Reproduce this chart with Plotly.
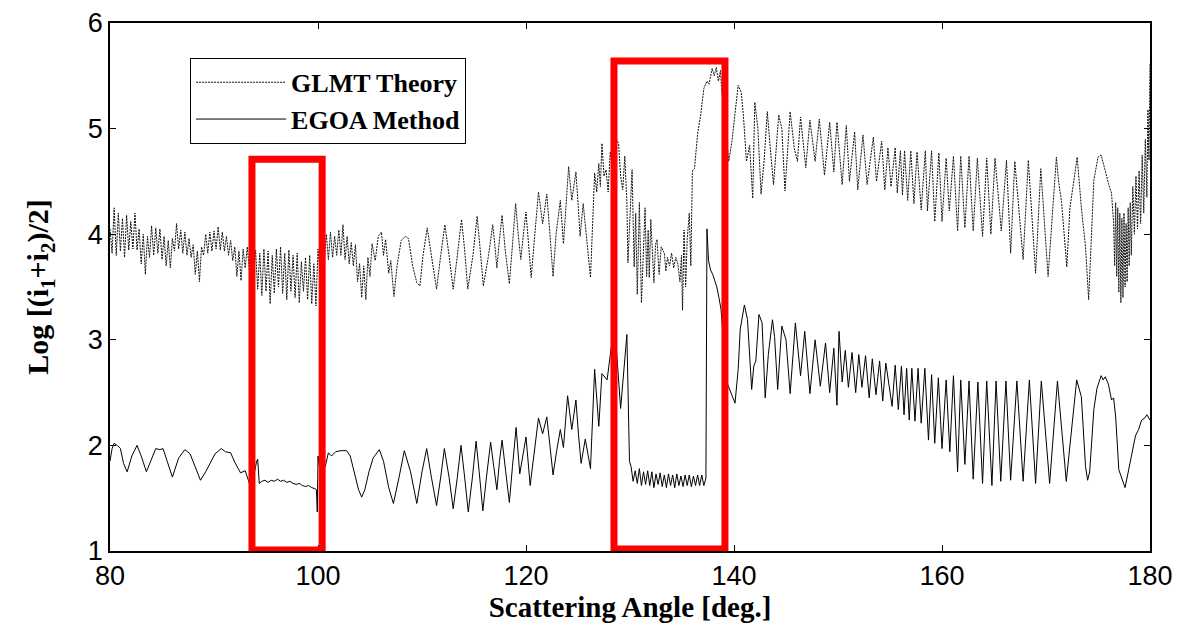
import numpy as np
import plotly.graph_objects as go

# ---------------- data ----------------
x_ticks = [80, 100, 120, 140, 160, 180]
y_ticks = [1, 2, 3, 4, 5, 6]

# GLMT Theory (upper curve) - densely oscillating part, sampled every 0.2 deg from 80.0
glmt_dense_start = 80.0
glmt_dense_step = 0.2
glmt_dense_y = [
    4.05, 3.82, 4.25, 3.80, 4.20,
    3.84, 4.15, 3.78, 4.18, 3.85,
    4.12, 3.86, 4.20, 3.85, 4.05,
    3.72, 4.00, 3.62, 3.98, 3.78,
    4.08, 3.80, 4.06, 3.82, 4.05,
    3.76, 3.98, 3.70, 3.94, 3.68,
    3.96, 3.84, 4.10, 3.86, 4.04,
    3.82, 4.02, 3.80, 3.96, 3.78,
    3.90, 3.62, 3.84, 3.55, 3.88,
    3.80, 4.00, 3.82, 4.02, 3.84,
    4.03, 3.86, 4.07, 3.85, 4.02,
    3.84, 3.98, 3.80, 3.94, 3.75,
    3.88, 3.60, 3.84, 3.56, 3.86,
    3.68, 3.88, 3.66, 3.90, 3.62,
    3.85, 3.48, 3.82, 3.42, 3.86,
    3.46, 3.84, 3.34, 3.80, 3.44,
    3.86, 3.50, 3.88, 3.44, 3.82,
    3.38, 3.85, 3.46, 3.80, 3.40,
    3.82, 3.35, 3.74, 3.46, 3.78,
    3.38, 3.80, 3.34, 3.72, 3.32,
    3.86, 3.64, 3.96, 3.72, 4.00,
    3.76, 4.02, 3.78, 3.98, 3.80,
    4.04, 3.80, 4.09, 3.76, 3.98,
    3.72, 3.92, 3.70, 3.90, 3.55,
    3.72, 3.40, 3.70, 3.38, 3.78,
]

# GLMT Theory (upper curve) - remaining part, read point by point
glmt_x = [
    105.0, 105.2, 105.5, 105.8, 106.1, 106.3, 106.5, 106.8, 107.0, 107.3,
    107.6, 108.0, 108.4, 108.7, 109.1, 109.5, 109.8, 110.1, 110.5, 110.9,
    111.4, 111.8, 112.2, 112.6, 113.0, 113.4, 113.8, 114.1, 114.4, 114.9,
    115.3, 115.6, 115.9, 116.4, 116.8, 117.0, 117.2, 117.45, 117.7, 118.0,
    118.4, 118.7, 119.0, 119.25, 119.5, 119.75, 120.0, 120.25, 120.5, 120.85,
    121.2, 121.6, 122.0, 122.3, 122.6, 122.9, 123.3, 123.6, 124.1, 124.4,
    124.8, 125.0, 125.2, 125.5, 125.8, 126.2, 126.6, 126.8, 127.0, 127.15,
    127.3, 127.5, 127.7, 127.9, 128.1, 128.3, 128.5, 128.7, 128.9, 129.1,
    129.3, 129.5, 129.7, 129.8, 130.0, 130.2, 130.4, 130.55, 130.7, 130.9,
    131.1, 131.3, 131.45, 131.6, 131.75, 131.85, 132.0, 132.3, 132.45, 132.6,
    132.8, 133.0, 133.3, 133.45, 133.6, 133.8, 134.0, 134.2, 134.4, 134.6,
    134.8, 134.95, 135.05, 135.2, 135.35, 135.5, 135.7, 135.85, 136.0, 136.2,
    136.5, 136.8, 137.1, 137.4, 137.6, 137.9, 138.1, 138.3, 138.5, 138.7,
    138.8, 139.0, 139.5, 139.8, 140.1, 140.4, 140.7, 140.9, 141.2, 141.5,
    141.8, 142.0, 142.3, 142.6, 142.9, 143.2, 143.5, 143.8, 144.3, 144.6,
    144.9, 145.4, 145.8, 146.1, 146.4, 146.9, 147.3, 147.8, 148.2, 148.7,
    149.2, 149.6, 149.9, 150.4, 150.8, 151.1, 151.6, 151.9, 152.4, 152.8,
    153.4, 153.7, 154.2, 154.5, 154.8, 155.1, 155.5, 155.7, 156.0, 156.2,
    156.4, 156.7, 157.0, 157.3, 157.6, 158.0, 158.4, 158.6, 159.0, 159.3,
    159.7, 160.0, 160.4, 160.7, 161.1, 161.5, 161.8, 162.2, 162.6, 163.0,
    163.4, 163.9, 164.3, 164.7, 165.1, 165.7, 166.2, 166.6, 167.0, 167.8,
    168.3, 169.0, 169.5, 170.2, 171.0, 171.2, 171.5, 172.0, 172.3, 173.0,
    173.4, 173.8, 174.1, 174.3, 174.6, 175.0, 175.3, 175.7, 176.0, 176.3,
    176.5, 176.6, 176.7, 176.8, 176.9, 177.0, 177.1, 177.2, 177.3, 177.4,
    177.5, 177.6, 177.7, 177.8, 177.9, 178.0, 178.1, 178.2, 178.35, 178.5,
    178.65, 178.8, 178.95, 179.1, 179.25, 179.4, 179.55, 179.7, 179.8, 179.9,
    180.0,
]
glmt_y = [
    3.60, 3.91, 3.75, 3.98, 4.02, 3.80, 3.95, 3.63, 3.75, 3.41,
    3.70, 3.94, 3.98, 3.96, 3.70, 3.54, 3.51, 3.80, 4.06, 3.80,
    3.48, 3.80, 4.09, 3.80, 3.48, 3.80, 4.14, 3.85, 3.48, 3.80,
    4.17, 3.85, 3.51, 3.80, 4.09, 3.90, 3.68, 3.95, 4.18, 3.85,
    3.53, 3.90, 4.29, 4.00, 3.76, 4.00, 4.21, 3.90, 3.59, 4.00,
    4.40, 4.10, 4.38, 4.00, 3.60, 4.01, 4.32, 3.91, 4.64, 4.32,
    4.59, 4.30, 3.98, 4.29, 4.01, 3.59, 4.58, 4.40, 4.67, 4.45,
    4.86, 4.55, 4.61, 4.40, 4.78, 4.60, 4.48, 4.90, 4.86, 4.55,
    4.42, 4.74, 4.30, 3.73, 4.19, 4.61, 3.69, 4.20, 3.43, 4.30,
    3.35, 3.95, 4.25, 3.60, 4.04, 3.59, 4.14, 3.54, 3.90, 3.95,
    3.62, 3.88, 3.82, 3.65, 3.78, 3.70, 3.82, 3.68, 3.78, 3.72,
    3.55, 3.80, 3.28, 4.04, 3.50, 3.95, 4.20, 3.70, 4.60, 4.62,
    4.95, 5.13, 5.38, 5.45, 5.42, 5.57, 5.50, 5.58, 5.45, 5.55,
    5.38, 5.20, 4.69, 4.88, 5.16, 5.41, 5.34, 5.13, 4.69, 4.84,
    4.34, 5.25, 5.00, 4.38, 4.70, 5.16, 4.80, 4.47, 5.13, 5.00,
    4.41, 5.16, 4.81, 4.69, 5.11, 4.63, 5.08, 4.69, 5.09, 4.56,
    5.06, 4.59, 5.06, 4.47, 5.03, 4.50, 4.97, 4.42, 4.94, 4.47,
    4.92, 4.50, 4.88, 4.42, 4.82, 4.45, 4.82, 4.39, 4.79, 4.37,
    4.79, 4.32, 4.79, 4.29, 4.78, 4.23, 4.79, 4.22, 4.79, 4.12,
    4.77, 4.12, 4.72, 4.22, 4.74, 4.03, 4.74, 4.06, 4.74, 4.03,
    4.72, 3.98, 4.72, 4.00, 4.72, 4.03, 4.70, 3.82, 4.69, 3.76,
    4.70, 3.63, 4.62, 3.60, 4.73, 4.51, 4.30, 3.69, 4.25, 4.73,
    4.25, 3.88, 3.38, 3.85, 4.51, 4.73, 4.75, 4.60, 4.48, 4.39,
    4.11, 3.70, 4.30, 3.60, 4.25, 3.45, 4.20, 3.35, 4.15, 3.40,
    4.20, 3.50, 4.10, 3.55, 4.25, 3.70, 4.30, 3.80, 4.45, 4.00,
    4.55, 4.05, 4.60, 4.10, 4.75, 4.20, 4.90, 4.35, 5.18, 4.70,
    5.62,
]

# EGOA Method (lower curve) - read point by point
egoa_x = [
    80.0, 80.2, 80.4, 80.7, 81.0, 81.3, 81.65, 82.1, 82.6, 83.0,
    83.5, 83.9, 84.4, 84.8, 85.1, 85.5, 86.0, 86.6, 87.2, 87.7,
    88.2, 88.7, 89.2, 89.6, 90.1, 90.7, 91.1, 91.6, 92.0, 92.55,
    93.0, 93.47, 93.8, 94.1, 94.2, 94.35, 94.6, 94.9, 95.2, 95.5,
    95.8, 96.1, 96.4, 96.7, 97.0, 97.3, 97.6, 97.9, 98.2, 98.5,
    98.8, 99.1, 99.4, 99.7, 99.85, 99.93, 100.0, 100.2, 100.4, 100.7,
    101.0, 101.3, 101.7, 102.2, 102.75, 103.1, 103.5, 103.9, 104.2, 104.5,
    104.9, 105.3, 105.9, 106.3, 106.8, 107.25, 107.8, 108.3, 108.9, 109.5,
    110.0, 110.45, 110.9, 111.4, 111.8, 112.15, 112.6, 113.0, 113.4, 113.75,
    114.1, 114.45, 114.85, 115.2, 115.5, 115.85, 116.2, 116.6, 116.9, 117.2,
    117.45, 117.7, 118.05, 118.4, 118.7, 119.05, 119.4, 119.7, 120.0, 120.4,
    120.8, 121.2, 121.6, 122.0, 122.3, 122.6, 122.95, 123.3, 123.6, 124.0,
    124.4, 124.8, 125.05, 125.3, 125.7, 126.2, 126.6, 127.0, 127.3, 127.8,
    128.2, 128.5, 128.7, 129.1, 129.7, 129.95,
]
egoa_y = [
    1.85, 1.97, 2.02, 2.00, 1.97, 1.83, 1.75, 1.90, 2.00, 1.90,
    1.75, 1.85, 1.97, 1.96, 1.97, 1.85, 1.70, 1.88, 1.96, 1.92,
    1.80, 1.67, 1.75, 1.82, 1.92, 1.97, 1.94, 1.93, 1.84, 1.74,
    1.76, 1.62, 1.70, 1.85, 1.87, 1.64, 1.66, 1.67, 1.65, 1.67,
    1.66, 1.68, 1.66, 1.67, 1.65, 1.66, 1.64, 1.63, 1.64, 1.62,
    1.61, 1.62, 1.60, 1.59, 1.58, 1.37, 1.90, 1.75, 1.85, 1.80,
    1.93, 1.90, 1.94, 1.95, 1.95, 1.90, 1.75, 1.58, 1.51, 1.58,
    1.75, 1.88, 1.96, 1.85, 1.60, 1.45, 1.70, 1.95, 1.75, 1.45,
    1.75, 1.97, 1.70, 1.43, 1.70, 1.97, 1.70, 1.40, 1.70, 2.00,
    1.70, 1.37, 1.70, 2.04, 1.75, 1.38, 1.70, 2.03, 1.80, 1.58,
    1.85, 2.05, 1.75, 1.46, 1.80, 2.17, 1.73, 1.90, 2.08, 1.62,
    1.95, 2.26, 2.11, 2.27, 2.00, 1.72, 1.95, 2.15, 1.98, 2.47,
    2.15, 2.43, 2.10, 1.83, 2.06, 1.78, 2.72, 2.18, 2.68, 2.62,
    2.93, 2.74, 2.90, 2.35, 3.05, 1.85,
]

# EGOA Method - noisy plateau, sampled every 0.2 deg from 130.1
egoa_flat_start = 130.1
egoa_flat_step = 0.2
egoa_flat_y = [
    1.80, 1.66, 1.76, 1.64, 1.78, 1.62, 1.75, 1.63, 1.76, 1.62,
    1.75, 1.60, 1.73, 1.63, 1.74, 1.61, 1.72, 1.60, 1.73, 1.62,
    1.72, 1.60, 1.73, 1.62, 1.71, 1.61, 1.72, 1.62, 1.72, 1.61,
    1.71, 1.62, 1.72, 1.62, 1.72, 1.62, 1.69,
]

# EGOA Method - after the plateau
egoa_x2 = [
    137.4, 137.55, 137.75, 137.95, 138.15, 138.35, 138.55, 138.75, 139.3, 140.1,
    140.4, 140.6, 141.0, 141.3, 141.7, 141.9, 142.1, 142.4, 142.7, 143.0,
    143.3, 143.7, 143.9, 144.2, 144.4, 144.6, 145.0, 145.4, 145.9, 146.4,
    146.8, 147.3, 147.8, 148.3, 148.8, 149.2, 149.6, 149.9, 150.1, 150.4,
    150.7, 151.0, 151.35, 151.7, 152.0, 152.3, 152.65, 153.0, 153.3, 153.65,
    154.0, 154.3, 154.6, 155.2, 155.5, 155.8, 156.1, 156.35, 156.6, 156.85,
    157.1, 157.4, 157.7, 158.0, 158.35, 158.7, 159.0, 159.3, 159.65, 160.0,
    160.4, 160.75, 161.1, 161.5, 161.8, 162.2, 162.6, 163.0, 163.45, 163.9,
    164.3, 164.8, 165.2, 165.65, 166.15, 166.6, 167.2, 167.8, 168.4, 169.0,
    169.55, 170.35, 171.1, 171.95, 172.95, 173.4, 173.8, 174.0, 174.2, 174.6,
    174.9, 175.3, 175.5, 175.7, 176.0, 176.3, 176.5, 176.7, 177.0, 177.3,
    177.6, 177.85, 178.1, 178.6, 178.9, 179.2, 179.5, 179.7, 180.0,
]
egoa_y2 = [
    4.05, 3.75, 3.66, 3.62, 3.55, 3.50, 3.40, 3.29, 2.60, 2.40,
    2.72, 3.10, 3.33, 3.19, 2.53, 2.75, 2.80, 3.24, 3.16, 2.45,
    2.86, 3.19, 3.03, 2.53, 2.84, 3.13, 3.00, 2.49, 3.16, 2.66,
    3.08, 2.49, 3.00, 2.56, 2.97, 2.50, 2.92, 2.38, 3.08, 2.60,
    2.90, 2.55, 2.88, 2.50, 2.86, 2.55, 2.85, 2.45, 2.82, 2.48,
    2.80, 2.42, 2.78, 2.37, 2.76, 2.34, 2.75, 2.29, 2.73, 2.24,
    2.73, 2.23, 2.73, 2.21, 2.73, 2.05, 2.67, 2.02, 2.64, 1.97,
    2.62, 1.94, 2.66, 1.75, 2.62, 1.82, 2.61, 1.68, 2.60, 1.64,
    2.61, 1.62, 2.61, 1.66, 2.61, 1.67, 2.61, 1.66, 2.62, 1.64,
    2.61, 1.64, 2.61, 1.66, 2.62, 2.46, 1.80, 1.67, 1.75, 2.34,
    2.54, 2.66, 2.62, 2.65, 2.58, 2.43, 2.45, 2.27, 1.77, 1.68,
    1.60, 1.72, 1.84, 2.09, 2.15, 2.24, 2.26, 2.29, 2.24,
]

# highlighted regions (x0, x1, y0, y1)
box1 = [93.65, 100.4, 1.01, 4.71]
box2 = [128.46, 139.13, 1.02, 5.64]

# ---------------- assemble ----------------
glmt_dense_x = [round(glmt_dense_start + i * glmt_dense_step, 3) for i in range(len(glmt_dense_y))]
glmt_all_x = glmt_dense_x + glmt_x
glmt_all_y = glmt_dense_y + glmt_y

egoa_flat_x = [round(egoa_flat_start + i * egoa_flat_step, 3) for i in range(len(egoa_flat_y))]
egoa_all_x = egoa_x + egoa_flat_x + egoa_x2
egoa_all_y = egoa_y + egoa_flat_y + egoa_y2

serif = "Liberation Serif, Times New Roman, serif"
sans = "Liberation Sans, Arial, sans-serif"

fig = go.Figure()
fig.add_trace(go.Scatter(
    x=glmt_all_x, y=glmt_all_y, mode="lines", name="GLMT Theory",
    line=dict(color="#111111", width=1, dash="2px,1px"),
))
fig.add_trace(go.Scatter(
    x=egoa_all_x, y=egoa_all_y, mode="lines", name="EGOA Method",
    line=dict(color="#000000", width=1),
))

for b in (box1, box2):
    fig.add_shape(type="rect", xref="x", yref="y",
                  x0=b[0], x1=b[1], y0=b[2], y1=b[3],
                  line=dict(color="#ff0000", width=7), fillcolor="rgba(0,0,0,0)",
                  layer="above")

fig.update_layout(
    width=1185, height=623,
    margin=dict(l=102, r=43, t=15, b=80, autoexpand=False),
    paper_bgcolor="white", plot_bgcolor="white",
    showlegend=True,
    legend=dict(
        x=0.077, y=0.934, xanchor="left", yanchor="top",
        bgcolor="white", bordercolor="black", borderwidth=1,
        font=dict(family=serif, size=26, color="black", weight="bold"),
        tracegroupgap=0, itemwidth=90,
    ),
    xaxis=dict(
        range=[80, 180], tickvals=x_ticks, ticktext=[str(v) for v in x_ticks],
        ticks="inside", ticklen=6, tickcolor="black", tickwidth=1,
        showline=True, linecolor="black", linewidth=1.5, mirror="ticks",
        showgrid=False, zeroline=False, ticklabeloverflow="allow", automargin=False,
        tickfont=dict(family=sans, size=27, color="black"),
        title=dict(text="Scattering Angle [deg.]", standoff=2,
                   font=dict(family=serif, size=29, color="black", weight="bold")),
    ),
    yaxis=dict(
        range=[1, 6], tickvals=y_ticks, ticktext=[str(v) for v in y_ticks],
        ticks="inside", ticklen=6, tickcolor="black", tickwidth=1,
        showline=True, linecolor="black", linewidth=1.5, mirror="ticks",
        showgrid=False, zeroline=False, ticklabeloverflow="allow", automargin=False,
        tickfont=dict(family=sans, size=27, color="black"),
        title=dict(text="Log [(i<sub>1</sub>+i<sub>2</sub>)/2]", standoff=30,
                   font=dict(family=serif, size=30, color="black", weight="bold")),
    ),
)

fig.write_html("out.html")
